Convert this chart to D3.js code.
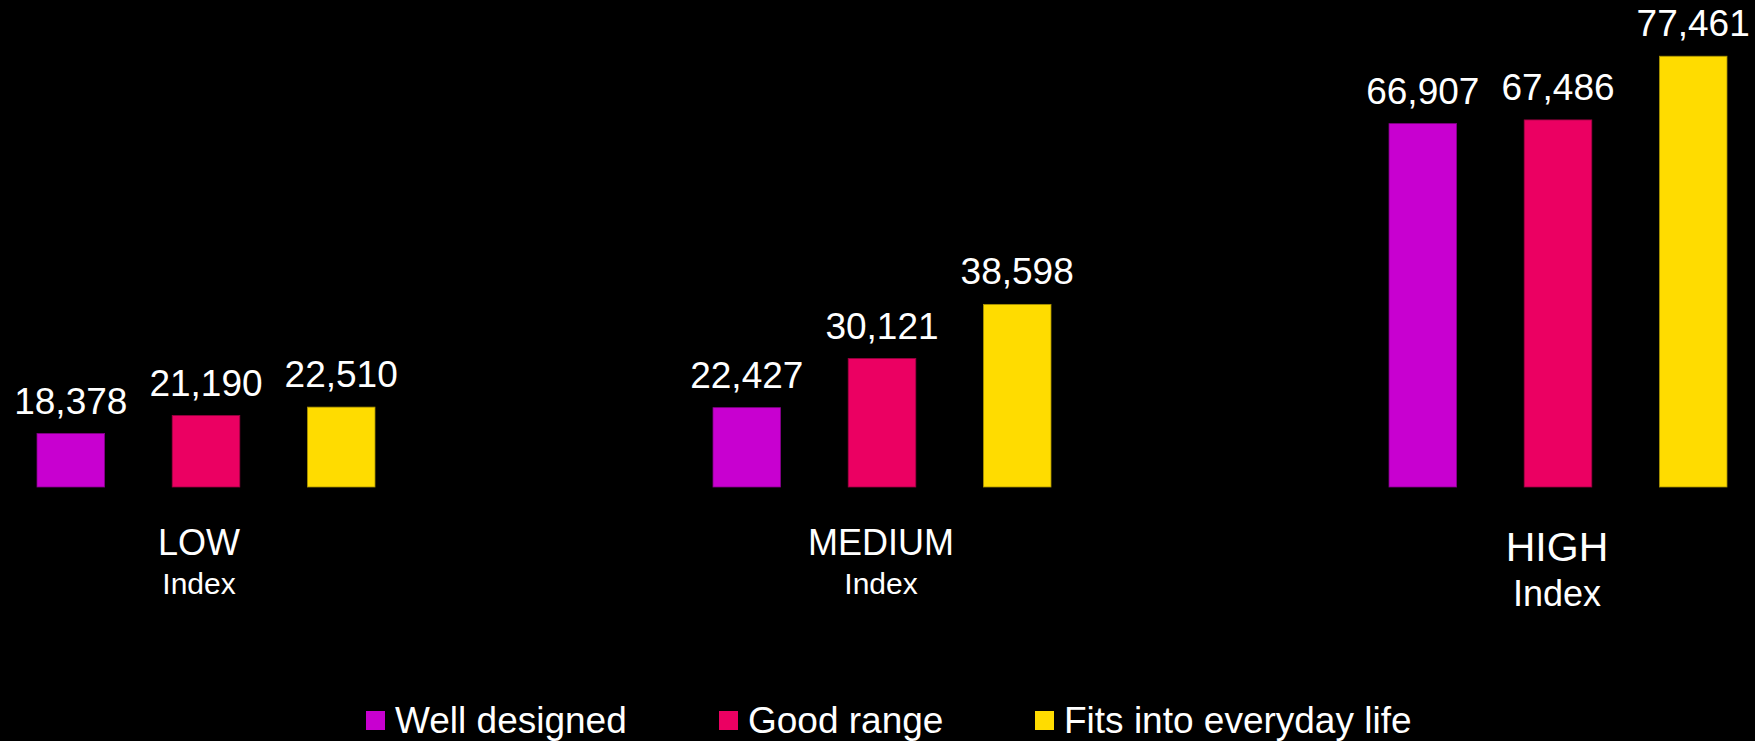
<!DOCTYPE html>
<html>
<head>
<meta charset="utf-8">
<script src="https://cdn.jsdelivr.net/npm/d3@7"></script>
<style>
  html, body { margin: 0; padding: 0; background: #000; }
  svg { display: block; }
  text { font-family: "Liberation Sans", Arial, Helvetica, sans-serif; fill: #fff; }
</style>
</head>
<body>
<svg id="chart" width="1755" height="741"></svg>
<script>
const groups = ["LOW", "MEDIUM", "HIGH"];
const subLabel = "Index";
const series = ["Well designed", "Good range", "Fits into everyday life"];
const wellDesigned = [18378, 22427, 66907];
const goodRange = [21190, 30121, 67486];
const fitsEveryday = [22510, 38598, 77461];
const colors = ["#C800D0", "#EB0062", "#FFDC00"];
const axisMin = 10000, axisMax = 80000;

const seriesValues = [wellDesigned, goodRange, fitsEveryday];
const data = groups.map((g, gi) => ({
  group: g,
  values: series.map((s, si) => ({ series: s, value: seriesValues[si][gi], color: colors[si] }))
}));

const svg = d3.select("#chart");
const W = 1755, H = 741;
svg.append("rect").attr("width", W).attr("height", H).attr("fill", "#000");

const x0 = d3.scaleBand().domain(groups).range([37, 1727]).paddingInner(0.5).paddingOuter(0);
const x1 = d3.scaleBand().domain(series).range([0, x0.bandwidth()]).paddingInner(0.5).paddingOuter(0);
const y = d3.scaleLinear().domain([axisMin, axisMax]).range([487, 40]);
const fmt = d3.format(",");

const g = svg.append("g");
const grp = g.selectAll(".grp").data(data).join("g")
  .attr("class", "grp")
  .attr("transform", d => `translate(${x0(d.group)},0)`);

grp.selectAll("rect").data(d => d.values).join("rect")
  .attr("x", d => x1(d.series))
  .attr("y", d => y(d.value))
  .attr("width", x1.bandwidth())
  .attr("height", d => y(axisMin) - y(d.value))
  .attr("fill", d => d.color)
  .attr("stroke", d => d3.color(d.color).darker(1.2))
  .attr("stroke-width", 0.8);

grp.selectAll(".val").data(d => d.values).join("text")
  .attr("class", "val")
  .attr("x", d => x1(d.series) + x1.bandwidth() / 2)
  .attr("y", d => y(d.value) - 20)
  .attr("text-anchor", "middle")
  .attr("font-size", 37)
  .text(d => fmt(d.value));

// Category labels
const catStyle = {
  LOW: { dx: -6, main: 36, mainY: 555, sub: 30, subY: 594 },
  MEDIUM: { dx: 0, main: 36, mainY: 555, sub: 30, subY: 594 },
  HIGH: { dx: 0, main: 41, mainY: 561, sub: 36, subY: 606 }
};
groups.forEach(gname => {
  const st = catStyle[gname];
  const cx = x0(gname) + x1(series[1]) + x1.bandwidth() / 2 - 1 + st.dx;
  svg.append("text").attr("x", cx).attr("y", st.mainY).attr("text-anchor", "middle")
    .attr("font-size", st.main).text(gname);
  svg.append("text").attr("x", cx).attr("y", st.subY).attr("text-anchor", "middle")
    .attr("font-size", st.sub).text(subLabel);
});

// Legend
const legendX = [366, 719, 1035];
const leg = svg.append("g").selectAll("g").data(series).join("g")
  .attr("transform", (d, i) => `translate(${legendX[i]},0)`);
leg.append("rect").attr("x", 0).attr("y", 711).attr("width", 19).attr("height", 19)
  .attr("fill", (d, i) => colors[i]);
leg.append("text").attr("x", 29).attr("y", 733).attr("font-size", 37).text(d => d);
</script>
</body>
</html>
